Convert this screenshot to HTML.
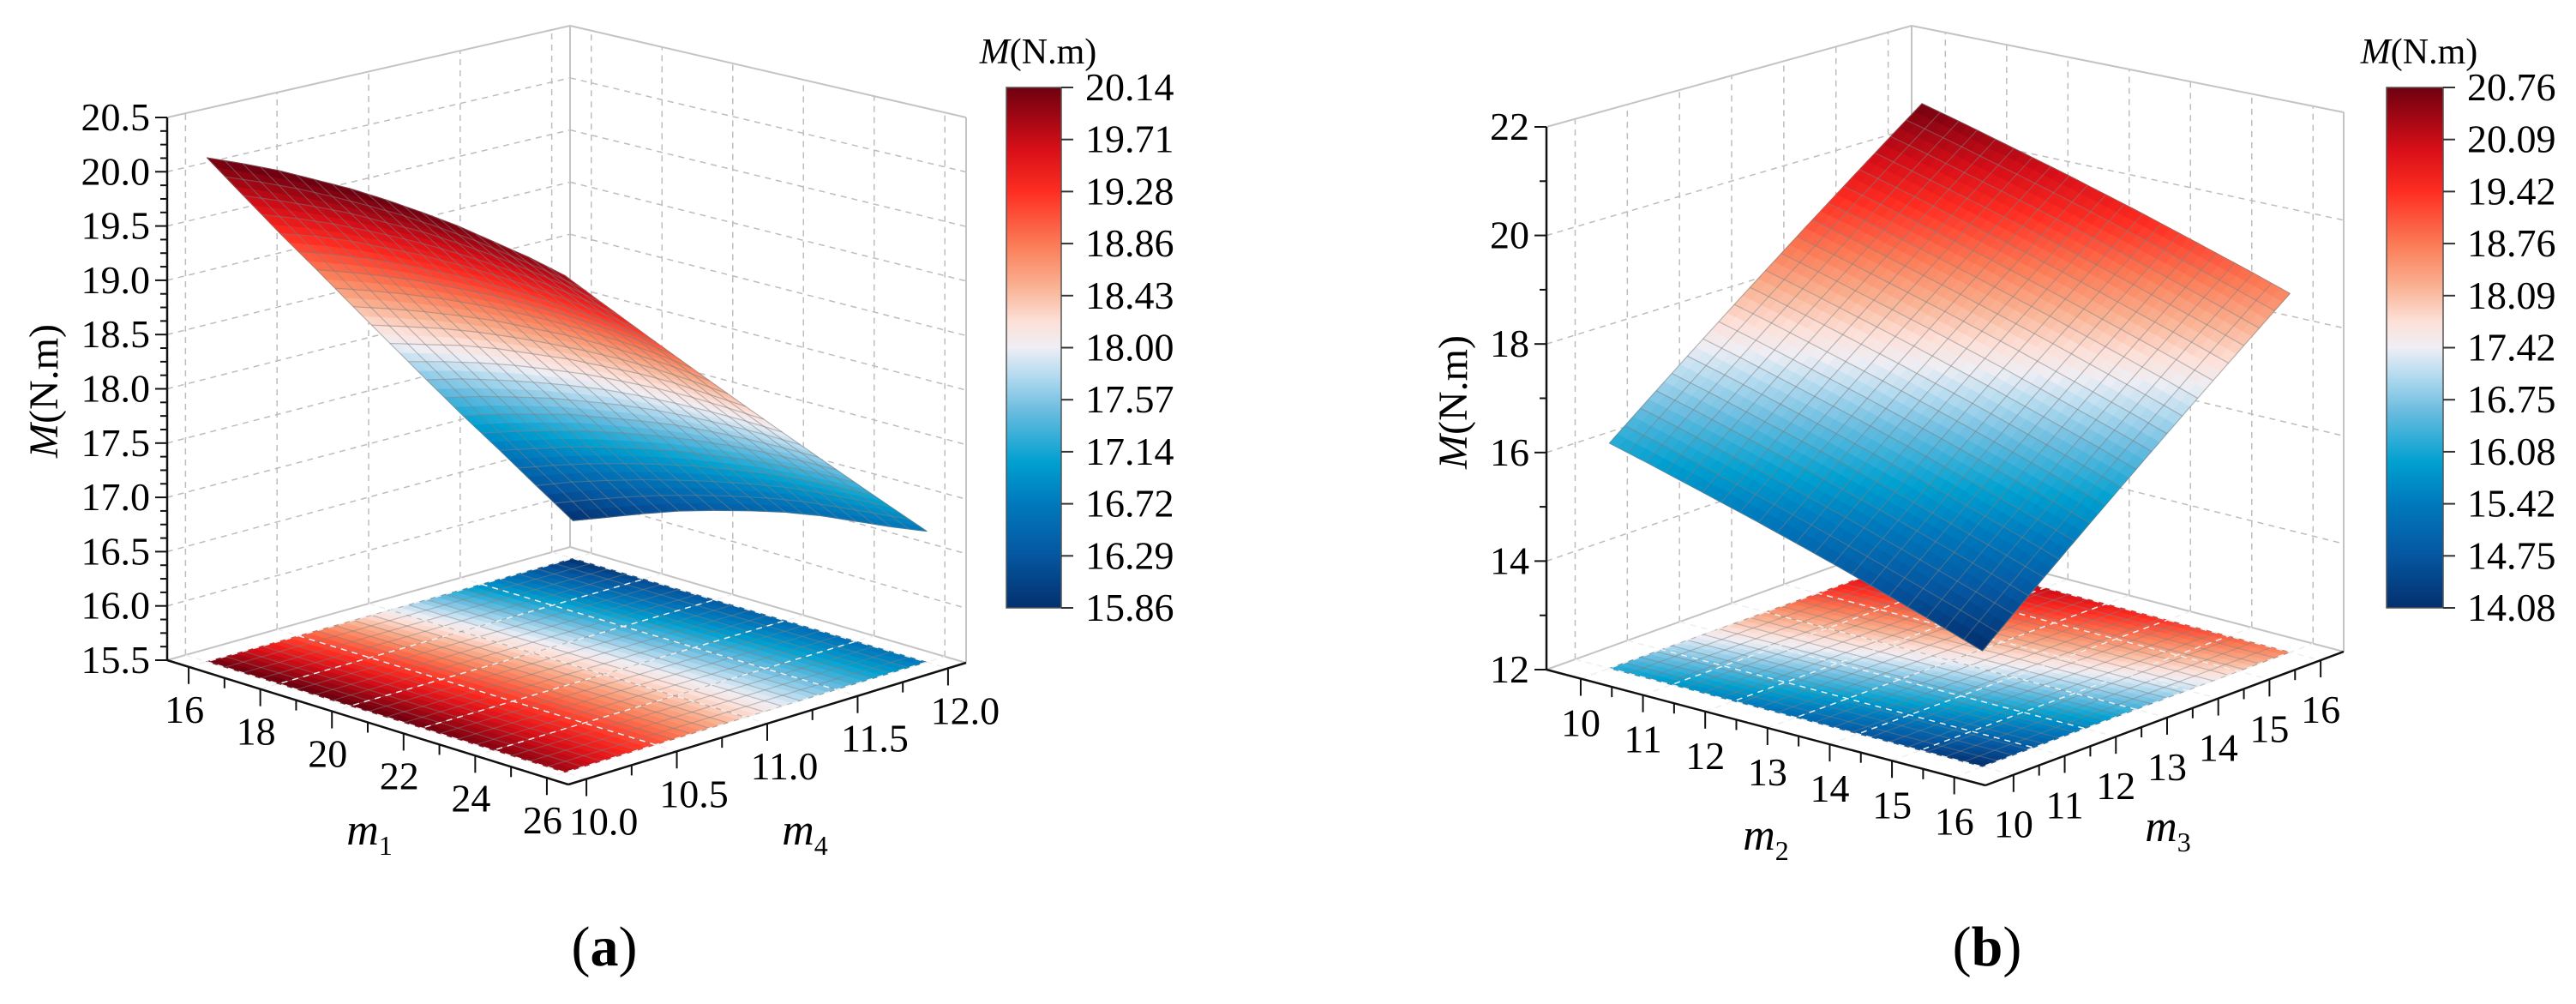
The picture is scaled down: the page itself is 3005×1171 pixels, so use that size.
<!DOCTYPE html>
<html><head><meta charset="utf-8"><style>
html,body{margin:0;padding:0;background:#fff;}
svg{display:block;}
text{font-family:"Liberation Serif","Times New Roman",serif;}
</style></head><body>
<svg id="fig" width="3005" height="1171" viewBox="0 0 3005 1171" xmlns="http://www.w3.org/2000/svg" font-family="Liberation Serif, serif">
<defs>
<linearGradient id="cmap" x1="0" y1="1" x2="0" y2="0">
<stop offset="0" stop-color="#03306e"/><stop offset="0.1" stop-color="#0556a0"/><stop offset="0.2" stop-color="#0079bd"/>
<stop offset="0.28" stop-color="#00a0d0"/><stop offset="0.38" stop-color="#6cbde0"/><stop offset="0.45" stop-color="#b8dcf0"/>
<stop offset="0.5" stop-color="#eeeef4"/><stop offset="0.55" stop-color="#fde0d8"/><stop offset="0.62" stop-color="#f9b090"/>
<stop offset="0.7" stop-color="#fb7a55"/><stop offset="0.8" stop-color="#fe2d22"/><stop offset="0.88" stop-color="#d80f18"/>
<stop offset="1" stop-color="#6f0010"/>
</linearGradient>
</defs>
<g id="chartA"></g>
<g id="chartB"></g>
<text x="705" y="1126" font-size="66" text-anchor="middle" font-family="Liberation Serif, serif">(<tspan font-weight="bold">a</tspan>)</text>
<text x="2318" y="1126" font-size="66" text-anchor="middle" font-family="Liberation Serif, serif">(<tspan font-weight="bold">b</tspan>)</text>
</svg>
<script>
// ---------- DATA: chart (a) ----------
const m1Vals = [16,17,18,19,20,21,22,23,24,25,26];
const m4Vals = [10.0,10.2,10.4,10.6,10.8,11.0,11.2,11.4,11.6,11.8,12.0];
// rows: m4 index, cols: m1 index
const zA = [
[20.14,20.17,20.19,20.19,20.19,20.17,20.14,20.10,20.04,19.98,19.90],
[19.71,19.75,19.78,19.80,19.80,19.80,19.78,19.75,19.70,19.65,19.58],
[19.28,19.34,19.38,19.40,19.42,19.42,19.41,19.39,19.36,19.32,19.26],
[18.86,18.92,18.97,19.01,19.03,19.05,19.05,19.04,19.02,18.99,18.94],
[18.43,18.50,18.56,18.61,18.65,18.67,18.69,18.69,18.68,18.66,18.62],
[18.00,18.08,18.16,18.22,18.26,18.30,18.32,18.34,18.34,18.32,18.30],
[17.57,17.67,17.75,17.82,17.88,17.93,17.96,17.98,17.99,17.99,17.98],
[17.14,17.25,17.34,17.43,17.49,17.55,17.60,17.63,17.65,17.66,17.66],
[16.72,16.83,16.94,17.03,17.11,17.18,17.23,17.28,17.31,17.33,17.34],
[16.29,16.42,16.53,16.63,16.72,16.80,16.87,16.93,16.97,17.00,17.02],
[15.86,15.99,16.12,16.24,16.34,16.43,16.51,16.57,16.61,16.65,16.70]];
const zTicksA = [15.5,16.0,16.5,17.0,17.5,18.0,18.5,19.0,19.5,20.0,20.5];
const m1Ticks = [16,18,20,22,24,26];
const m4Ticks = [10.0,10.5,11.0,11.5,12.0];
const cbarA = [20.14,19.71,19.28,18.86,18.43,18.00,17.57,17.14,16.72,16.29,15.86];

// ---------- DATA: chart (b) ----------
const m2Vals = [10,10.6,11.2,11.8,12.4,13,13.6,14.2,14.8,15.4,16];
const m3Vals = [10,10.6,11.2,11.8,12.4,13,13.6,14.2,14.8,15.4,16];
// rows: m3 index, cols: m2 index
const zB = [
[16.15,15.96,15.76,15.56,15.36,15.15,14.94,14.72,14.50,14.28,14.05],
[16.61,16.42,16.22,16.02,15.82,15.61,15.40,15.18,14.96,14.74,14.51],
[17.07,16.88,16.68,16.48,16.28,16.07,15.86,15.64,15.42,15.20,14.97],
[17.53,17.34,17.14,16.94,16.74,16.53,16.32,16.10,15.88,15.66,15.43],
[17.99,17.80,17.60,17.40,17.20,16.99,16.78,16.56,16.34,16.12,15.89],
[18.45,18.26,18.06,17.86,17.66,17.45,17.24,17.02,16.80,16.58,16.35],
[18.91,18.72,18.52,18.32,18.12,17.91,17.70,17.48,17.26,17.04,16.81],
[19.37,19.18,18.98,18.78,18.58,18.37,18.16,17.94,17.72,17.50,17.27],
[19.83,19.64,19.44,19.24,19.04,18.83,18.62,18.40,18.18,17.96,17.73],
[20.29,20.10,19.90,19.70,19.50,19.29,19.08,18.86,18.64,18.42,18.19],
[20.75,20.56,20.36,20.16,19.96,19.75,19.54,19.32,19.10,18.88,18.65]];
const zTicksB = [12,14,16,18,20,22];
const m2Ticks = [10,11,12,13,14,15,16];
const m3Ticks = [10,11,12,13,14,15,16];
const cbarB = [20.76,20.09,19.42,18.76,18.09,17.42,16.75,16.08,15.42,14.75,14.08];

const NS = "http://www.w3.org/2000/svg";
const FONT = "Liberation Serif, serif";
const STOPS = [[0,3,48,110],[0.1,5,86,160],[0.2,0,121,189],[0.28,0,160,208],[0.38,108,189,224],[0.45,184,220,240],[0.5,238,238,244],[0.55,253,224,216],[0.62,249,176,144],[0.7,251,122,85],[0.8,254,45,34],[0.88,216,15,24],[1,111,0,16]];
function cmap(t){
  t=Math.max(0,Math.min(1,t));
  for(let i=1;i<STOPS.length;i++){
    if(t<=STOPS[i][0]){
      const a=STOPS[i-1],b=STOPS[i],f=(t-a[0])/(b[0]-a[0]);
      return "rgb("+Math.round(a[1]+f*(b[1]-a[1]))+","+Math.round(a[2]+f*(b[2]-a[2]))+","+Math.round(a[3]+f*(b[3]-a[3]))+")";
    }
  }
  return "rgb(111,0,16)";
}
function mk(parent,tag,attrs){
  const e=document.createElementNS(NS,tag);
  for(const k in attrs) e.setAttribute(k,attrs[k]);
  if(tag==="text") e.setAttribute("font-family",FONT);
  parent.appendChild(e);
  return e;
}

function drawChart(g,cfg,xs,ys,Z,zTicks,xTicks,yTicks,cbar){
  const xr=cfg.xr,yr=cfg.yr,zr=cfg.zr;
  function P(x,y,z){
    const a=(x-xr[0])/(xr[1]-xr[0]), b=(y-yr[0])/(yr[1]-yr[0]), c=(z-zr[0])/(zr[1]-zr[0]);
    const w=[(1-a)*(1-b),a*(1-b),a*b,(1-a)*b];
    const C=[cfg.L,cfg.F,cfg.R,cfg.B], H=[cfg.hL,cfg.hF,cfg.hR,cfg.hB];
    let px=0,py=0,h=0;
    for(let i=0;i<4;i++){px+=w[i]*C[i][0];py+=w[i]*C[i][1];h+=w[i]*H[i];}
    return [px,py-c*h];
  }
  const pt=p=>p[0].toFixed(1)+","+p[1].toFixed(1);
  function line(p,q,stroke,sw,dash,name){
    const e=mk(g,"line",{x1:p[0],y1:p[1],x2:q[0],y2:q[1],stroke:stroke,"stroke-width":sw});
    if(dash) e.setAttribute("stroke-dasharray",dash);
    
    
    return e;
  }
  const X0=xr[0],X1=xr[1],Y0=yr[0],Y1=yr[1],Z0=zr[0],Z1=zr[1];
  const gc="#bdbdbd";
  for(const t of yTicks){ line(P(X0,t,Z0),P(X0,t,Z1),gc,1.5,"7,6","left-wall-grid-line"); }
  for(const t of zTicks){ line(P(X0,Y0,t),P(X0,Y1,t),gc,1.5,"7,6","left-wall-grid-line"); line(P(X0,Y1,t),P(X1,Y1,t),gc,1.5,"7,6","right-wall-grid-line"); }
  for(const t of xTicks){ line(P(t,Y1,Z0),P(t,Y1,Z1),gc,1.5,"7,6","right-wall-grid-line"); }
  line(P(X0,Y0,Z1),P(X0,Y1,Z1),"#c4c4c4",2,null,"box-edge");
  line(P(X0,Y1,Z1),P(X1,Y1,Z1),"#c4c4c4",2,null,"box-edge");
  line(P(X0,Y1,Z0),P(X0,Y1,Z1),"#c4c4c4",2,null,"box-edge");
  line(P(X1,Y1,Z0),P(X1,Y1,Z1),"#c4c4c4",2,null,"box-edge");
  line(P(X0,Y0,Z0),P(X0,Y1,Z0),"#c4c4c4",2,null,"box-edge");
  line(P(X0,Y1,Z0),P(X1,Y1,Z0),"#c4c4c4",2,null,"box-edge");

  const cmin=cbar[cbar.length-1], cmax=cbar[0];
  const ct=z=>cmap((z-cmin)/(cmax-cmin));
  const NI=xs.length-1, NJ=ys.length-1, S=4;
  // sample surface at fractional grid index (bilinear within the data cell)
  function sampleXYZ(fi,fj){
    const i=Math.min(Math.floor(fi),NI-1), j=Math.min(Math.floor(fj),NJ-1);
    const u=fi-i, v=fj-j;
    const x=xs[i]+u*(xs[i+1]-xs[i]), y=ys[j]+v*(ys[j+1]-ys[j]);
    const z=(1-u)*(1-v)*Z[j][i]+u*(1-v)*Z[j][i+1]+u*v*Z[j+1][i+1]+(1-u)*v*Z[j+1][i];
    return [x,y,z];
  }
  const sub=[];
  for(let j=0;j<NJ*S;j++) for(let i=0;i<NI*S;i++){
    const c=[sampleXYZ(i/S,j/S),sampleXYZ((i+1)/S,j/S),sampleXYZ((i+1)/S,(j+1)/S),sampleXYZ(i/S,(j+1)/S)];
    const zz=(c[0][2]+c[1][2]+c[2][2]+c[3][2])/4;
    const a=((c[0][0]+c[2][0])/2-X0)/(X1-X0), b=((c[0][1]+c[2][1])/2-Y0)/(Y1-Y0);
    sub.push({c:c,z:zz,key:a-b});
  }
  sub.sort((p,q)=>p.key-q.key);
  // floor projection
  for(const s of sub){
    const col=ct(s.z);
    const poly=s.c.map(q=>P(q[0],q[1],Z0));
    const e=mk(g,"polygon",{points:poly.map(pt).join(" "),fill:col,stroke:col,"stroke-width":0.9});
    
    
  }
  function meshLines(zfun,name,op){
    const M=2;
    for(let k=0;k<=NI*M;k++){
      const pts=[];
      for(let j=0;j<=NJ*4;j++){ const q=sampleXYZ(k/M,j/4); pts.push(P(q[0],q[1],zfun(q[2]))); }
      const e=mk(g,"polyline",{points:pts.map(pt).join(" "),fill:"none",stroke:"#808080","stroke-width":1.2,"stroke-opacity":op});
      
      
    }
    for(let k=0;k<=NJ*M;k++){
      const pts=[];
      for(let i=0;i<=NI*4;i++){ const q=sampleXYZ(i/4,k/M); pts.push(P(q[0],q[1],zfun(q[2]))); }
      const e=mk(g,"polyline",{points:pts.map(pt).join(" "),fill:"none",stroke:"#808080","stroke-width":1.2,"stroke-opacity":op});
      
      
    }
  }
  meshLines(z=>Z0,"floor-mesh-line",0.45);
  for(const t of xTicks){ line(P(t,Y0,Z0),P(t,Y1,Z0),"#eeeeee",1.5,"7,6","floor-grid-line"); }
  for(const t of yTicks){ line(P(X0,t,Z0),P(X1,t,Z0),"#eeeeee",1.5,"7,6","floor-grid-line"); }
  // surface
  for(const s of sub){
    const col=ct(s.z);
    const poly=s.c.map(q=>P(q[0],q[1],q[2]));
    const e=mk(g,"polygon",{points:poly.map(pt).join(" "),fill:col,stroke:col,"stroke-width":0.9,"stroke-linejoin":"round"});
    
    
  }
  meshLines(z=>z,"surface-mesh-line",0.5);
  // axes
  line(P(X0,Y0,Z0),P(X0,Y0,Z1),"#111",2.5,null,"z-axis");
  line(P(X0,Y0,Z0),P(X1,Y0,Z0),"#111",2.5,null,"x-axis");
  line(P(X1,Y0,Z0),P(X1,Y1,Z0),"#111",2.5,null,"y-axis");
  for(let v=Z0;v<=Z1+1e-6;v+=cfg.zMinor){
    const p=P(X0,Y0,v);
    const major=zTicks.some(t=>Math.abs(t-v)<1e-6);
    line(p,[p[0]-(major?14:8),p[1]],"#111",2,null,"z-axis-tick");
  }
  for(const t of zTicks){
    const p=P(X0,Y0,t);
    const e=mk(g,"text",{x:p[0]-20,y:p[1]+15,"font-size":46,"text-anchor":"end"});
    e.textContent=t.toFixed(cfg.zDec);
    
    
  }
  for(let v=xTicks[0];v<=xTicks[xTicks.length-1]+1e-6;v+=cfg.xMinor){
    const p=P(v,Y0,Z0); const major=xTicks.some(t=>Math.abs(t-v)<1e-6);
    line(p,[p[0],p[1]+(major?20:12)],"#111",2,null,"x-axis-tick");
  }
  for(let v=yTicks[0];v<=yTicks[yTicks.length-1]+1e-6;v+=cfg.yMinor){
    const p=P(X1,v,Z0); const major=yTicks.some(t=>Math.abs(t-v)<1e-6);
    line(p,[p[0],p[1]+(major?20:12)],"#111",2,null,"y-axis-tick");
  }
  for(const t of xTicks){
    const p=P(t,Y0,Z0);
    const e=mk(g,"text",{x:p[0]+cfg.xLab[0],y:p[1]+cfg.xLab[1]+15,"font-size":46,"text-anchor":"middle"});
    e.textContent=t.toFixed(cfg.xDec);
    
    
  }
  for(const t of yTicks){
    const p=P(X1,t,Z0);
    const e=mk(g,"text",{x:p[0]+cfg.yLab[0],y:p[1]+cfg.yLab[1]+15,"font-size":46,"text-anchor":"middle"});
    e.textContent=t.toFixed(cfg.yDec);
    
    
  }
  let e=mk(g,"text",{x:cfg.xTitle[0],y:cfg.xTitle[1]+16,"font-size":52,"text-anchor":"middle"});
  e.innerHTML='<tspan font-style="italic">m</tspan><tspan font-size="32" dy="12">'+cfg.xSub+'</tspan>';
  
  
  e=mk(g,"text",{x:cfg.yTitle[0],y:cfg.yTitle[1]+16,"font-size":52,"text-anchor":"middle"});
  e.innerHTML='<tspan font-style="italic">m</tspan><tspan font-size="32" dy="12">'+cfg.ySub+'</tspan>';
  
  
  e=mk(g,"text",{x:0,y:0,"font-size":48,"text-anchor":"middle",transform:"translate("+(cfg.zTitle[0]+16)+","+cfg.zTitle[1]+") rotate(-90)"});
  e.innerHTML='<tspan font-style="italic">M</tspan>(N.m)';
  
  
  const cb=cfg.cb;
  e=mk(g,"rect",{x:cb[0],y:cb[1],width:cb[2],height:cb[3],fill:"url(#cmap)",stroke:"#555","stroke-width":1.5});
  
  
  for(let k=0;k<cbar.length;k++){
    const y=cb[1]+k*cb[3]/(cbar.length-1);
    line([cb[0]+cb[2],y],[cb[0]+cb[2]+14,y],"#333",2,null,"colorbar-tick");
    const t=mk(g,"text",{x:cb[0]+cb[2]+28,y:y+15,"font-size":46});
    t.textContent=cbar[k].toFixed(2);
    
    
  }
  e=mk(g,"text",{x:cb[0]+cb[2]/2+5,y:cb[1]-28,"font-size":42,"text-anchor":"middle"});
  e.innerHTML='<tspan font-style="italic">M</tspan>(N.m)';
  
  
}

drawChart(document.getElementById("chartA"),{
  xr:[15.4,26.6], yr:[9.9,12.1], zr:[15.5,20.5],
  L:[195,770], F:[663,915], R:[1127,773], B:[665,638], hL:633, hF:661, hR:636, hB:608,
  zMinor:0.125, xMinor:1, yMinor:0.25, zDec:1, xDec:0, yDec:1,
  xLab:[-5,50], yLab:[20,50], xTitle:[431,969], yTitle:[939,969], xSub:"1", ySub:"4",
  zTitle:[51,456], cb:[1174,102,64,607]
}, m1Vals, m4Vals, zA, zTicksA, m1Ticks, m4Ticks, cbarA);

drawChart(document.getElementById("chartB"),{
  xr:[9.45,16.5], yr:[9.45,16.45], zr:[12,22],
  L:[1804,781], F:[2316,916], R:[2734,760], B:[2230,628], hL:633, hF:664, hR:629, hB:598,
  zMinor:1, xMinor:0.5, yMinor:0.5, zDec:0, xDec:0, yDec:0,
  xLab:[0,52], yLab:[0,58], xTitle:[2060,975], yTitle:[2529,965], xSub:"2", ySub:"3",
  zTitle:[1695,469], cb:[2784,102,66,607]
}, m2Vals, m3Vals, zB, zTicksB, m2Ticks, m3Ticks, cbarB);
</script>
</body></html>
